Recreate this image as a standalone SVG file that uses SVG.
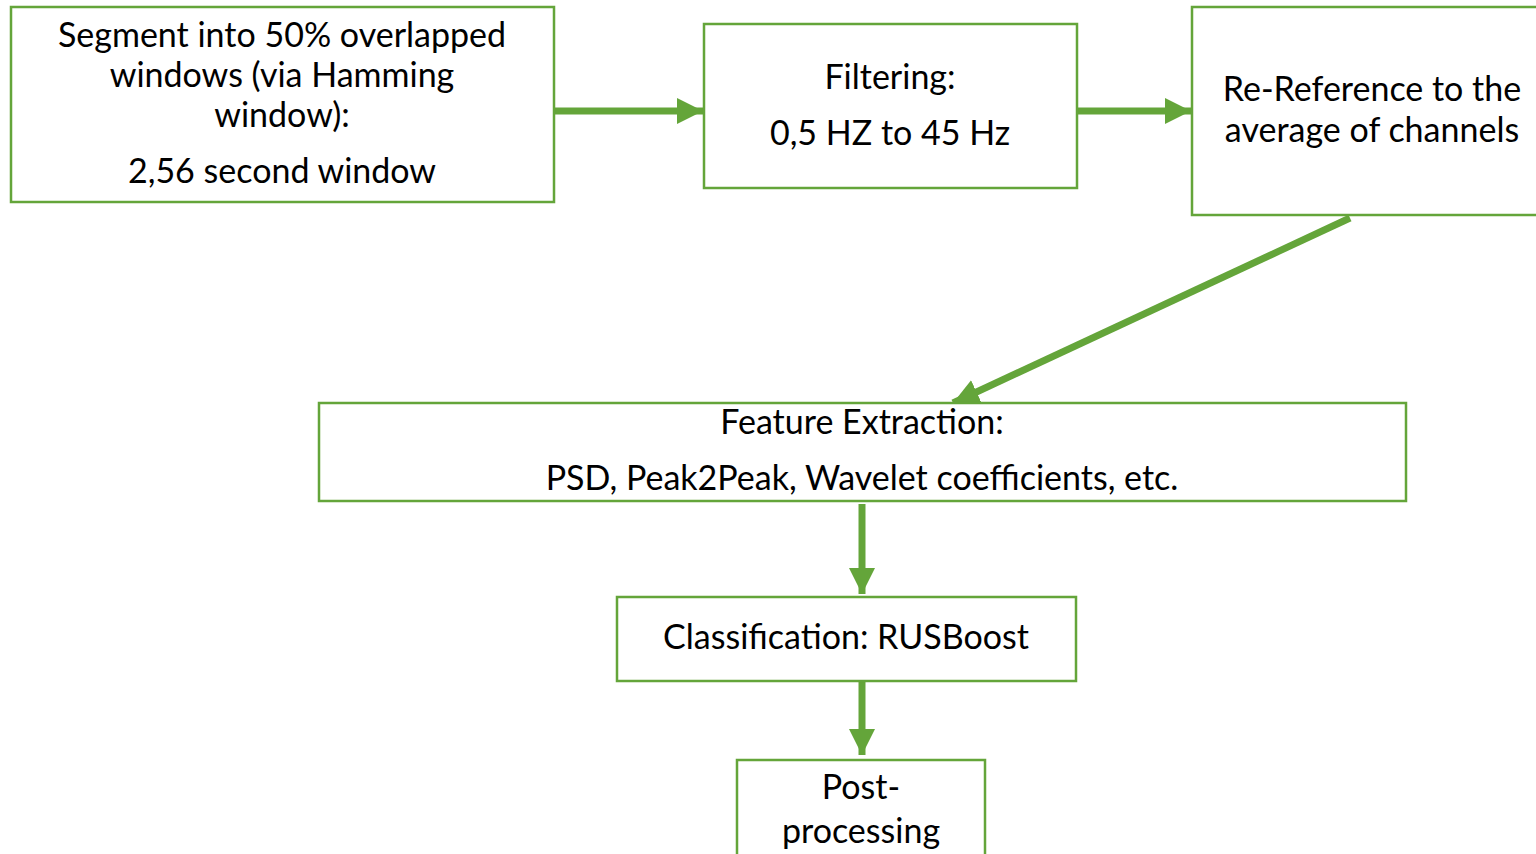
<svg xmlns="http://www.w3.org/2000/svg" width="1536" height="854" viewBox="0 0 1536 854">
<defs>
<style>
.box{fill:#fff;stroke:#64a53a;stroke-width:2.5}
.t{font-family:Lato,"Open Sans",sans-serif;font-size:34px;fill:#000;text-anchor:middle}
.c{stroke:#64a53a;stroke-width:7;fill:none}
</style>
<marker id="ah" markerUnits="userSpaceOnUse" markerWidth="26" markerHeight="26" viewBox="0 0 24 24" refX="24" refY="12" orient="auto">
<path d="M0,0 L24,12 L0,24 Z" fill="#64a53a"/>
</marker>
</defs>
<rect width="1536" height="854" fill="#fff"/>
<g id="connectors">
<line class="c" x1="554" y1="111" x2="703" y2="111" marker-end="url(#ah)"/>
<line class="c" x1="1077" y1="111" x2="1191" y2="111" marker-end="url(#ah)"/>
<line class="c" x1="1350" y1="218" x2="953" y2="403" marker-end="url(#ah)"/>
<line class="c" x1="862" y1="504" x2="862" y2="594" marker-end="url(#ah)"/>
<line class="c" x1="862" y1="682" x2="862" y2="755" marker-end="url(#ah)"/>
</g>
<g id="segment">
<rect class="box" x="11" y="7" width="543" height="195"/>
<text class="t" x="282" y="47">Segment into 50% overlapped</text>
<text class="t" x="282" y="87">windows (via Hamming</text>
<text class="t" x="282" y="127">window):</text>
<text class="t" x="282" y="183">2,56 second window</text>
</g>
<g id="filtering">
<rect class="box" x="704" y="24" width="373" height="164"/>
<text class="t" x="890" y="89">Filtering:</text>
<text class="t" x="890" y="145">0,5 HZ to 45 Hz</text>
</g>
<g id="rereference">
<rect class="box" x="1192" y="7" width="360" height="208"/>
<text class="t" x="1372" y="101">Re-Reference to the</text>
<text class="t" x="1372" y="142">average of channels</text>
</g>
<g id="features">
<rect class="box" x="319" y="403" width="1087" height="98"/>
<text class="t" x="862" y="434">Feature Extraction:</text>
<text class="t" x="862" y="490">PSD, Peak2Peak, Wavelet coefficients, etc.</text>
</g>
<g id="classification">
<rect class="box" x="617" y="597" width="459" height="84"/>
<text class="t" x="846" y="649">Classification: RUSBoost</text>
</g>
<g id="postprocessing">
<rect class="box" x="737" y="760" width="248" height="120"/>
<text class="t" x="861" y="799">Post-</text>
<text class="t" x="861" y="843">processing</text>
</g>
</svg>
